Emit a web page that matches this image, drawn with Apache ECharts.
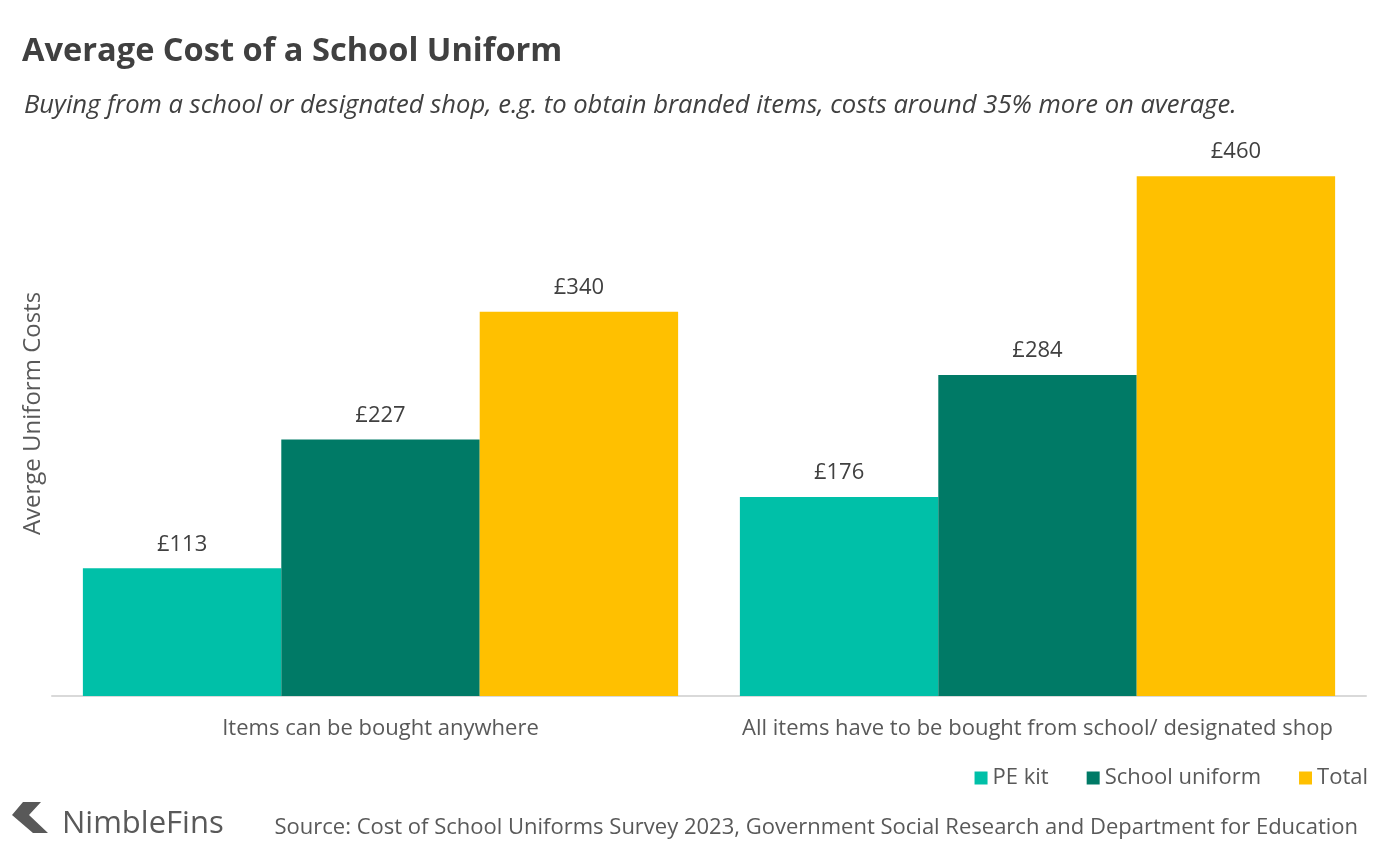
<!DOCTYPE html>
<html>
<head>
<meta charset="utf-8">
<title>Average Cost of a School Uniform</title>
<script src="https://cdn.jsdelivr.net/npm/echarts@6/dist/echarts.min.js"></script>
<style>
  html, body { margin: 0; padding: 0; background: #fff; }
  #chart { width: 1400px; height: 852px; }
</style>
</head>
<body>
<div id="chart"></div>
<script>
// data
const categories = ['Items can be bought anywhere', 'All items have to be bought from school/ designated shop']
const peKit = [113, 176]
const schoolUniform = [227, 284]
const total = [340, 460]
const seriesNames = ['PE kit', 'School uniform', 'Total']

const FONT = 'Open Sans'
const TXT = '#404040'

const chart = echarts.init(document.getElementById('chart'))

const barLabel = {
  show: true,
  position: 'top',
  distance: 13,
  color: TXT,
  fontFamily: FONT,
  fontSize: 22,
  formatter: (p) => '£' + p.value
}

const option = {
  animation: false,
  backgroundColor: '#fff',
  textStyle: { fontFamily: FONT },
  title: [
    {
      text: 'Average Cost of a School Uniform',
      left: 17,
      top: 30,
      textStyle: { fontFamily: FONT, fontSize: 32.6, fontWeight: 'bold', color: TXT }
    },
    {
      text: 'Buying from a school or designated shop, e.g. to obtain branded items, costs around 35% more on average.',
      left: 19,
      top: 88,
      textStyle: { fontFamily: FONT, fontSize: 25.6, fontStyle: 'italic', fontWeight: 'normal', color: TXT }
    },
    {
      text: 'Source: Cost of School Uniforms Survey 2023, Government Social Research and Department for Education',
      right: 37,
      top: 812,
      textStyle: { fontFamily: FONT, fontSize: 22, fontWeight: 'normal', color: '#595959' }
    },
    {
      text: 'NimbleFins',
      left: 57,
      top: 804,
      textStyle: { fontFamily: FONT, fontSize: 31, fontWeight: 'normal', color: '#595959' }
    }
  ],
  graphic: [
    {
      type: 'polygon',
      shape: { points: [[12, 815], [23, 802], [41, 802], [29, 815], [48, 833], [33, 833]] },
      style: { fill: '#595959' }
    }
  ],
  legend: {
    data: seriesNames,
    right: 27,
    top: 762,
    itemWidth: 13,
    itemHeight: 13,
    itemGap: 38,
    icon: 'rect',
    textStyle: { fontFamily: FONT, fontSize: 22, color: '#595959' }
  },
  grid: {
    left: 52,
    right: 34,
    top: 131,
    bottom: 156,
    containLabel: false
  },
  xAxis: {
    type: 'category',
    data: categories,
    axisLine: { lineStyle: { color: '#d9d9d9', width: 2 } },
    axisTick: { show: false },
    axisLabel: { color: '#595959', fontFamily: FONT, fontSize: 22, margin: 22, interval: 0 }
  },
  yAxis: {
    type: 'value',
    min: 0,
    max: 500,
    name: 'Averge Uniform Costs',
    nameLocation: 'middle',
    nameGap: 7,
    nameTextStyle: { color: '#595959', fontFamily: FONT, fontSize: 24 },
    axisLine: { show: false },
    axisTick: { show: false },
    axisLabel: { show: false },
    splitLine: { show: false }
  },
  series: [
    {
      name: seriesNames[0],
      type: 'bar',
      data: peKit,
      barGap: '0%',
      barCategoryGap: '9.4%',
      itemStyle: { color: '#00C0A8' },
      label: barLabel
    },
    {
      name: seriesNames[1],
      type: 'bar',
      data: schoolUniform,
      barGap: '0%',
      barCategoryGap: '9.4%',
      itemStyle: { color: '#007A66' },
      label: barLabel
    },
    {
      name: seriesNames[2],
      type: 'bar',
      data: total,
      barGap: '0%',
      barCategoryGap: '9.4%',
      itemStyle: { color: '#FFC000' },
      label: barLabel
    }
  ]
}

chart.setOption(option)
</script>
</body>
</html>
